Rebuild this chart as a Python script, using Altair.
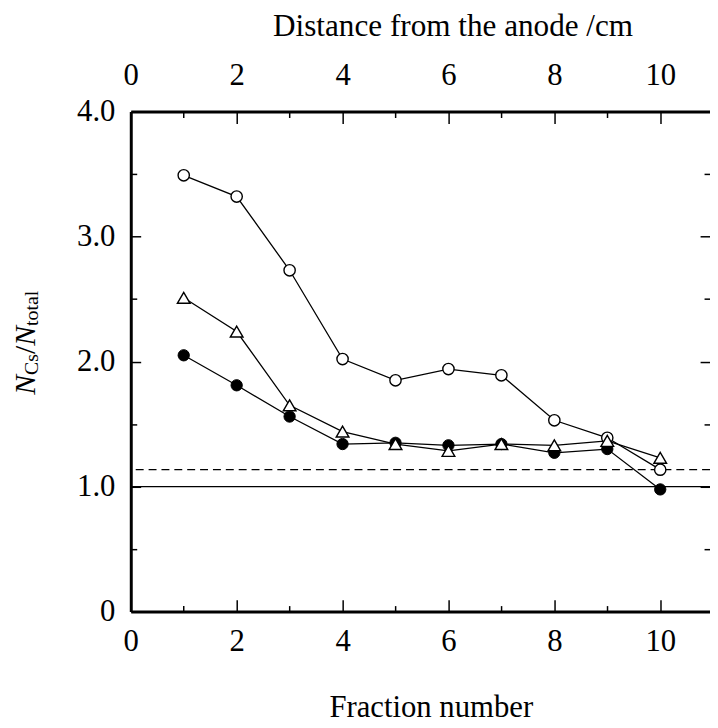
import altair as alt
import pandas as pd

# ---- data ----
fraction = [1, 2, 3, 4, 5, 6, 7, 8, 9, 10]
open_circle = [3.49, 3.32, 2.73, 2.02, 1.85, 1.94, 1.89, 1.53, 1.39, 1.135]
open_triangle = [2.51, 2.24, 1.65, 1.44, 1.34, 1.285, 1.34, 1.33, 1.365, 1.23]
filled_circle = [2.05, 1.81, 1.56, 1.34, 1.35, 1.33, 1.34, 1.27, 1.30, 0.977]
unity_level = [1.0]
dashed_level = [1.135]

x_major = [0, 2, 4, 6, 8, 10]
x_minor = [1, 3, 5, 7, 9]
y_major = [0, 1, 2, 3, 4]
y_minor = [0.5, 1.5, 2.5, 3.5]

FONT = "Liberation Serif"
LABEL_FS = 31
TITLE_FS = 31.5

df = pd.DataFrame({
    "fraction": fraction * 3,
    "ratio": open_circle + open_triangle + filled_circle,
    "series": ["open_circle"] * 10 + ["open_triangle"] * 10 + ["filled_circle"] * 10,
})

xs = alt.Scale(domain=[0, 10.94], nice=False, zero=False)
ys = alt.Scale(domain=[0, 4], nice=False, zero=False)


def make_axis(orient, values, size, labels=False, domain=False, **kw):
    d = dict(
        orient=orient, values=values, tickSize={"expr": str(-size)},
        tickColor="black", tickWidth=1.5, grid=False, labels=labels,
        domain=domain, title="",
    )
    if domain:
        d.update(domainColor="black", domainWidth=3)
    if labels:
        d.update(labelFont=FONT, labelFontSize=LABEL_FS, labelColor="black",
                 labelFlush=False, labelOverlap=False, labelBound=False)
    d.update(kw)
    return alt.Axis(**d)


ax_bottom = make_axis(
    "bottom", x_major, 12, labels=True, domain=True, labelPadding=27, format="d",
    title="Fraction number", titleFont=FONT, titleFontSize=31,
    titleFontWeight="normal", titleColor="black", titleX=303, titleY=106,
    titleAlign="center", titleBaseline="alphabetic", titleAngle=0)
ax_bottom_minor = make_axis("bottom", x_minor, 6)
ax_top = make_axis(
    "top", x_major, 12, labels=True, domain=True, labelPadding=32, format="d",
    title="Distance from the anode /cm", titleFont=FONT, titleFontSize=TITLE_FS,
    titleFontWeight="normal", titleColor="black", titleX=325, titleY=-77,
    titleAlign="center", titleBaseline="alphabetic", titleAngle=0)
ax_top_minor = make_axis("top", x_minor, 6)

ax_left = make_axis(
    "left", y_major, 10, labels=True, domain=True, labelPadding=26,
    labelExpr="datum.value == 0 ? '0' : format(datum.value, '.1f')")
ax_left_minor = make_axis("left", y_minor, 6)
ax_right = make_axis("right", y_major, 10)
ax_right_minor = make_axis("right", y_minor, 6)

base = alt.Chart(df)

rule_unity = alt.Chart(pd.DataFrame({"level": unity_level})).mark_rule(
    color="black", strokeWidth=1.3).encode(y=alt.Y("level:Q", scale=ys, axis=None))
rule_dashed = alt.Chart(pd.DataFrame({"level": dashed_level})).mark_rule(
    color="black", strokeWidth=1.3, strokeDash=[8, 5]).encode(
    y=alt.Y("level:Q", scale=ys, axis=None))

lines = base.mark_line(color="black", strokeWidth=1.3).encode(
    x=alt.X("fraction:Q", scale=xs, axis=ax_bottom),
    y=alt.Y("ratio:Q", scale=ys, axis=ax_left),
    detail="series:N",
)

filled_pts = base.transform_filter(alt.datum.series == "filled_circle").mark_point(
    shape="circle", size=130, filled=True, fill="black", stroke="black",
    strokeWidth=1, opacity=1).encode(
    x=alt.X("fraction:Q", scale=xs, axis=ax_bottom_minor),
    y=alt.Y("ratio:Q", scale=ys, axis=ax_left_minor),
)

open_pts = base.transform_filter(alt.datum.series == "open_circle").mark_point(
    shape="circle", size=130, filled=True, fill="white", stroke="black",
    strokeWidth=1.4, opacity=1).encode(
    x=alt.X("fraction:Q", scale=xs, axis=ax_top),
    y=alt.Y("ratio:Q", scale=ys, axis=ax_right),
)

tri_pts = base.transform_filter(alt.datum.series == "open_triangle").mark_point(
    shape="triangle-up", size=165, filled=True, fill="white", stroke="black",
    strokeWidth=1.4, opacity=1).encode(
    x=alt.X("fraction:Q", scale=xs, axis=ax_top_minor),
    y=alt.Y("ratio:Q", scale=ys, axis=ax_right_minor),
)

# ---- y-axis title  N_Cs / N_total  built from text pieces (rotated) ----
title_pieces = [
    ("N", "italic", 30, 0.667),
    ("Cs", "normal", 20, 0.667 + 0.389),
    ("/", "normal", 30, 0.278),
    ("N", "italic", 30, 0.667),
    ("total", "normal", 20, 0.278 + 0.5 + 0.278 + 0.444 + 0.278),
]
title_layers = []
pos = 286.0
for txt, style, fs, adv in title_pieces:
    xv = -97 if fs > 25 else -94
    title_layers.append(
        alt.Chart(pd.DataFrame({"t": [txt]})).mark_text(
            font=FONT, fontSize=fs, fontStyle=style, angle=270, align="left",
            baseline="alphabetic", color="black").encode(
            x=alt.value(xv), y=alt.value(pos), text="t:N"))
    pos -= adv * fs

chart = alt.layer(
    rule_unity, rule_dashed, lines, filled_pts, open_pts, tri_pts, *title_layers
).resolve_axis(x="independent", y="independent").properties(
    width=585, height=505,
    padding={"left": 124, "top": 101, "right": 0, "bottom": 110},
    autosize=alt.AutoSizeParams(type="none"),
    background="white",
).configure_view(strokeWidth=0)

chart.save("out.html", embed_options={"renderer": "svg", "actions": False})
